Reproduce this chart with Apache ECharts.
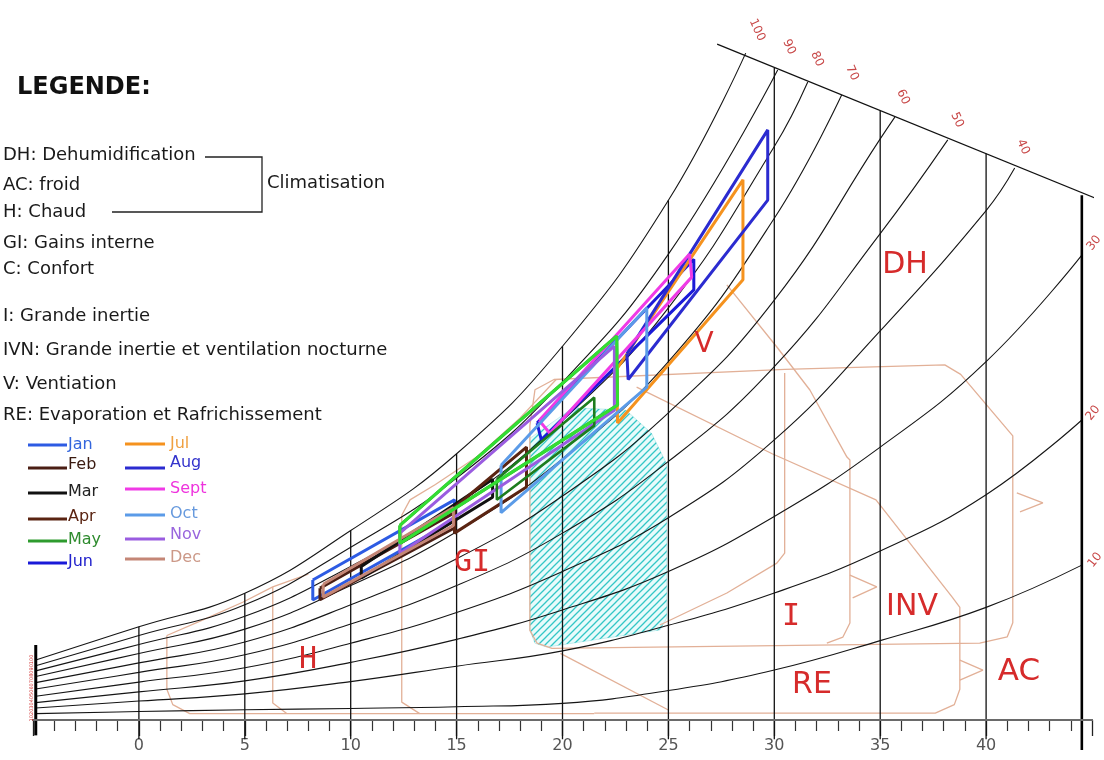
<!DOCTYPE html>
<html><head><meta charset="utf-8">
<script src="https://cdn.jsdelivr.net/npm/echarts/dist/echarts.min.js"></script>
<style>html,body{margin:0;padding:0;background:#fff}#c{width:1104px;height:760px}</style>
</head><body><div id="c"></div>
<script>
// ---------- DATA ----------
// x = dry-bulb temperature (°C), y = humidity ratio (g/kg, unlabelled in the original)
const xTickLabels = [0, 5, 10, 15, 20, 25, 30, 35, 40];
const rhLabels = ['100', '90', '80', '70', '60', '50', '40', '30', '20', '10'];
const rh100 = [[-4.87,2.34],[0,3.64],[5,4.95],[10,7.4],[15,10.4],[20,14.6],[25,20.3],[28.65,26.05]];
const rh90  = [[-4.87,2.12],[0,3.3],[5,4.5],[10,6.75],[15,9.45],[20,13.2],[25,18.2],[30.16,25.39]];
const rh80  = [[-4.87,1.92],[0,2.95],[5,4.05],[10,6.0],[15,8.4],[20,11.7],[25,16.1],[30,22.4],[31.58,24.92]];
const rh70  = [[-4.87,1.7],[0,2.6],[5,3.55],[10,5.25],[15,7.35],[20,10.2],[25,14.0],[30,19.6],[33.18,24.41]];
const rh60  = [[-4.87,1.46],[0,2.23],[5,3.05],[10,4.5],[15,6.3],[20,8.75],[25,12.0],[30,16.4],[35,22.7],[35.69,23.55]];
const rh50  = [[-4.87,1.21],[0,1.86],[5,2.55],[10,3.75],[15,5.25],[20,7.3],[25,10.1],[30,13.8],[35,19.0],[38.19,22.66]];
const rh40  = [[-4.87,0.93],[0,1.48],[5,2.04],[10,3.0],[15,4.2],[20,5.8],[25,7.9],[30,10.94],[35,15.2],[40,19.9],[41.35,21.56]];
const rh30  = [[-4.87,0.68],[0,1.1],[5,1.53],[10,2.25],[15,3.15],[20,4.3],[25,5.8],[30,7.95],[35,10.66],[40,14.0],[44.52,18.16]];
const rh20  = [[-4.87,0.47],[0,0.74],[5,1.02],[10,1.5],[15,2.1],[20,2.7],[25,3.7],[30,4.96],[35,6.6],[40,8.8],[44.52,11.72]];
const rh10  = [[-4.87,0.25],[0,0.33],[5,0.4],[10,0.45],[15,0.52],[20,0.65],[25,1.15],[30,1.95],[35,3.1],[40,4.4],[44.52,6.05]];
const gridTemps = [0, 5, 10, 15, 20, 25, 30, 35, 40];
const gridTops  = [3.64, 4.95, 7.4, 10.4, 14.6, 20.3, 25.47, 23.79, 22.13];
const topEdge   = [[27.3,26.4],[45.4,20.3]];
const leftEdge  = [[-4.87,2.93],[-4.87,-0.6]];
const rightEdge = [[44.52,20.5],[44.52,-1.17]];
const baseLine  = [[-6.05,0],[45.6,0]];

// monthly polygons
const janPoly  = [[8.21,5.47],[14.9,8.6],[14.9,7.8],[8.21,4.69],[8.21,5.47]];
const febPoly  = [[8.55,5.15],[14.9,8.1],[14.9,7.5],[8.55,4.7],[8.55,5.15]];
const marPoly  = [[10.5,6.0],[16.7,9.4],[16.7,8.7],[10.5,5.55],[10.5,6.0]];
const aprPoly  = [[14.9,8.3],[18.3,10.66],[18.3,9.1],[14.9,7.3],[14.9,8.3]];
const mayPoly  = [[12.32,7.6],[22.56,15.0],[22.6,12.3],[12.32,6.9],[12.32,7.6]];
const mayPoly2 = [[16.9,9.4],[21.5,12.6],[21.5,11.5],[16.9,8.6],[16.9,9.4]];
const junPoly  = [[18.8,11.6],[26.2,18.0],[26.2,16.8],[19.0,10.94],[18.8,11.6]];
const julPoly  = [[22.56,13.7],[28.52,21.1],[28.52,17.2],[22.6,11.6],[22.56,13.7]];
const augPoly  = [[23.04,14.3],[29.69,23.05],[29.69,20.31],[23.1,13.3],[23.04,14.3]];
const sepPoly  = [[18.9,11.7],[26.0,18.2],[26.1,17.3],[19.4,11.2],[18.9,11.7]];
const octPoly  = [[17.1,9.95],[23.98,16.1],[23.98,13.0],[17.1,8.1],[17.1,9.95]];
const novPoly  = [[12.32,7.3],[22.45,14.6],[22.45,12.1],[12.32,6.5],[12.32,7.3]];
const decPoly  = [[8.7,5.3],[14.85,8.3],[14.85,7.6],[8.7,4.8],[8.7,5.3]];

// zone outlines
const zoneHLeft   = [[1.32,3.3],[1.32,1.2],[1.6,0.6],[2.4,0.25],[21.5,0.25]];
const zoneHTop    = [[1.32,3.3],[3.0,3.9],[4.9,4.6],[6.32,5.2],[8.0,5.7]];
const zoneHRight  = [[6.32,5.2],[6.32,0.66],[6.98,0.25]];
const zoneGILeft  = [[12.41,8.0],[12.41,0.7],[13.26,0.25]];
const zoneGITop   = [[12.41,8.0],[12.8,8.6],[14.0,9.2],[16.0,10.3],[18.0,11.8],[19.7,13.3]];
const zoneBig     = [[18.46,11.5],[18.7,12.9],[19.6,13.3],[30.5,13.7],[38.05,13.87],[38.8,13.5],[41.26,11.1],[41.26,3.8],[41.0,3.25],[39.7,3.0],[19.5,2.8],[18.8,3.0],[18.46,3.5],[18.46,11.5]];
const zoneRELeft  = [[19.9,2.6],[25.0,0.39]];
const zoneRE      = [[21.5,0.27],[37.6,0.27],[38.5,0.6],[38.76,1.2],[38.76,4.4],[38.4,4.8],[34.8,8.6],[29.9,10.4],[23.5,13.0]];
const zoneI       = [[24.6,3.71],[27.76,4.96],[30.12,6.13],[30.49,6.52],[30.49,13.55]];
const zoneIRight  = [[27.76,17.0],[30.12,14.57],[31.68,12.89],[33.43,10.27],[33.57,10.16],[33.57,3.79],[33.24,3.24],[32.48,3.0]];
const arrowA = [[33.57,5.66],[34.84,5.2],[33.7,4.77]];
const arrowB = [[41.45,8.87],[42.68,8.48],[41.6,8.13]];
const arrowC = [[38.76,2.34],[39.85,1.95],[38.76,1.56]];
const comfortZone = [[18.46,11.0],[20.5,12.2],[23.0,12.1],[24.2,11.2],[24.92,10.0],[24.92,3.98],[24.6,3.52],[19.26,2.85],[18.7,3.0],[18.46,3.52]];

const monthNames  = ['Jan','Feb','Mar','Apr','May','Jun','Jul','Aug','Sept','Oct','Nov','Dec'];
const monthColors = ['#2d5be3','#4a1e14','#111111','#5a2412','#2e9b2e','#1a1ad8','#f5921e','#2b2bd0','#f03ae6','#5b9be8','#9a5ce0','#c48676'];
const monthTextColors = ['#3366dd','#3a1a10','#222222','#5a2412','#2e8b2e','#2222cc','#f0a040','#3333cc','#ee33dd','#6699dd','#9966dd','#cc9988'];

// ---------- CHART ----------
const chart = echarts.init(document.getElementById('c'));
const TAN = '#e2b097';
function ln(data, color, width, z, extra) {
  return Object.assign({type:'line', data:data, symbol:'none', silent:true, clip:false, z:z,
    lineStyle:{color:color, width:width}, animation:false}, extra || {});
}
const hatch = (function(){
  const c = document.createElement('canvas'); c.width = 7; c.height = 7;
  const g = c.getContext('2d'); g.strokeStyle = '#34c6c6'; g.lineWidth = 1.3;
  g.beginPath(); g.moveTo(-1,8); g.lineTo(8,-1); g.moveTo(-1,1); g.lineTo(1,-1); g.moveTo(6,8); g.lineTo(8,6); g.stroke();
  return c;
})();

const series = [];
series.push({type:'custom', coordinateSystem:'cartesian2d', data:[[0,0]], silent:true, z:1, animation:false,
  renderItem: function(params, api){
    const pts = comfortZone.map(p => api.coord(p));
    return {type:'group', children:[
      {type:'polygon', shape:{points:pts}, style:{fill:'rgba(150,238,238,0.22)', stroke:'#c4eeee', lineWidth:1}},
      {type:'polygon', shape:{points:pts}, style:{fill:{image:hatch, repeat:'repeat'}}}
    ]};
  }});
[zoneHLeft, zoneHTop, zoneHRight, zoneGILeft, zoneGITop, zoneBig, zoneRELeft, zoneRE, zoneI, zoneIRight, arrowA, arrowB, arrowC]
  .forEach(z => series.push(ln(z, TAN, 1.3, 2)));
[rh100, rh90, rh80, rh70, rh60, rh50, rh40, rh30, rh20, rh10]
  .forEach((d, i) => series.push(ln(d, '#151515', 1.1, 3, {name:'RH '+rhLabels[i], smooth:0.45})));
gridTemps.forEach((t, i) => series.push(ln([[t,-0.75],[t,gridTops[i]]], '#111', 1.3, 3)));
series.push(ln(topEdge, '#111', 1.2, 3));
series.push(ln(leftEdge, '#000', 3, 4));
series.push(ln(rightEdge, '#000', 2.6, 4));
series.push(ln(baseLine, '#6a6a6a', 2, 4));
const polys = [janPoly, febPoly, marPoly, aprPoly, mayPoly, junPoly, julPoly, augPoly, sepPoly, octPoly, novPoly, decPoly];
polys.forEach((p, i) => series.push(ln(p, monthColors[i], 3, 10, {name:monthNames[i]})));
series.push(ln(mayPoly2, '#1d7d1d', 2.6, 10));
series.push(ln(mayPoly, '#33dd33', 3, 11, {name:'May '}));

// ---------- ANNOTATIONS (layout only) ----------
const F = 'DejaVu Sans, Liberation Sans, sans-serif';
const g = [];
function txt(x, y, s, font, fill, align, rot) {
  g.push({type:'text', x:x, y:y, rotation:rot || 0, z:50,
    style:{text:s, font:font, fill:fill, textAlign:align || 'left', textVerticalAlign:'middle', verticalAlign:'middle'}});
}
function pl(points, stroke, w) {
  g.push({type:'polyline', z:50, shape:{points:points}, style:{stroke:stroke, lineWidth:w, fill:null}});
}
txt(17, 88, 'LEGENDE:', 'bold 24px ' + F, '#111');
const legendLines = ['DH: Dehumidification','AC: froid','H: Chaud','GI: Gains interne','C: Confort',
  'I: Grande inertie','IVN: Grande inertie et ventilation nocturne','V: Ventiation','RE: Evaporation et Rafrichissement'];
const legendY = [155, 185, 212, 243, 269, 316, 350, 384, 415];
legendLines.forEach((s, i) => txt(3, legendY[i], s, '18px ' + F, '#1a1a1a'));
pl([[205,157],[262,157],[262,212],[112,212]], '#222', 1.3);
txt(267, 183, 'Climatisation', '18px ' + F, '#1a1a1a');
const lineY = [445,468,493,519,541,563,444,468,489,515,539,559];
const textY = [445,465,492,517,540,562,444,463,489,514,535,558];
monthNames.forEach((m, i) => {
  const c2 = i >= 6;
  pl(c2 ? [[125,lineY[i]],[165,lineY[i]]] : [[28,lineY[i]],[67,lineY[i]]], monthColors[i], 3);
  txt(c2 ? 170 : 68, textY[i], m, '16px ' + F, monthTextColors[i]);
});
const RED = '#d62b2b';
txt(905, 265, 'DH', '30px ' + F, RED, 'center');
txt(704, 345, 'V', '28px ' + F, RED, 'center');
txt(472, 563, 'GI', '30px DejaVu Sans Mono, monospace', RED, 'center');
txt(308, 660, 'H', '30px DejaVu Sans Mono, monospace', RED, 'center');
txt(791, 617, 'I', '30px DejaVu Sans Mono, monospace', RED, 'center');
txt(912, 607, 'INV', '30px ' + F, RED, 'center');
txt(812, 685, 'RE', '30px ' + F, RED, 'center');
txt(1019, 672, 'AC', '31px ' + F, RED, 'center');
const rhLabelPos = [[757,30],[789,47],[817,59],[852,73],[903,97],[957,120],[1023,147]];
rhLabelPos.forEach((p, i) => txt(p[0], p[1], rhLabels[i], '12px ' + F, '#c84848', 'center', -1.15));
[[1094,243],[1093,413],[1095,560]].forEach((p, i) => txt(p[0], p[1], rhLabels[7+i], '12px ' + F, '#c84848', 'center', 0.9));
txt(32, 688, '102030405060708090100', '5px ' + F, '#d03030', 'center', Math.PI/2);

chart.setOption({
  animation:false,
  backgroundColor:'#ffffff',
  grid:{left:33, right:12, top:3.2, bottom:40},
  xAxis:{type:'value', min:-5, max:45, interval:5,
    axisLine:{show:false},
    axisTick:{show:true, length:16, lineStyle:{color:'#222', width:1.3}},
    minorTick:{show:true, splitNumber:5, length:11, lineStyle:{color:'#333', width:1.2}},
    splitLine:{show:false},
    axisLabel:{margin:18, fontSize:16, color:'#555', fontFamily:'DejaVu Sans',
      formatter: v => (xTickLabels.indexOf(v) >= 0 ? String(v) : '')}},
  yAxis:{type:'value', min:0, max:28, show:false},
  series:series,
  graphic:g
});
</script></body></html>
